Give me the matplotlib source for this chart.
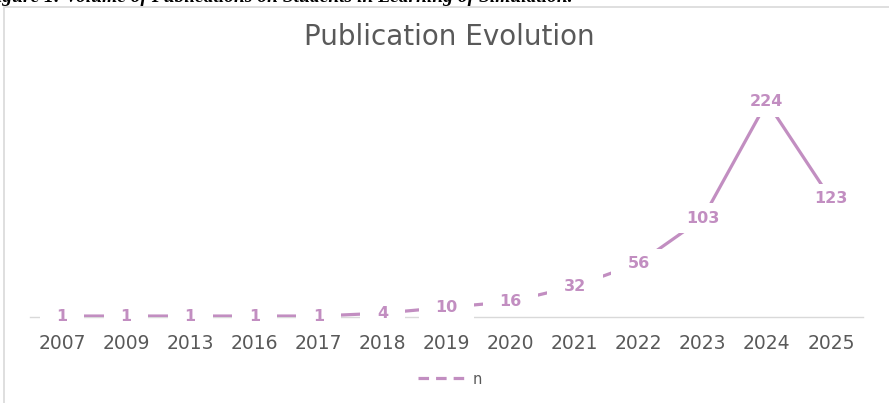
import matplotlib
matplotlib.use("Agg")
import matplotlib.pyplot as plt
from matplotlib.patches import Rectangle
from matplotlib.path import Path

years = ["2007", "2009", "2013", "2016", "2017", "2018", "2019",
         "2020", "2021", "2022", "2023", "2024", "2025"]
counts = [1, 1, 1, 1, 1, 4, 10, 16, 32, 56, 103, 224, 123]
series_name = "n"
title = "Publication Evolution"
caption = "Figure 1: Volume of Publications on Students in Learning of Simulation."

W, H = 889, 403
fig = plt.figure(figsize=(W / 100, H / 100), dpi=100)
fig.patch.set_facecolor("white")

line_color = "#C28EC1"
text_gray = "#595959"


class WideBox:
    """Rectangular label box with separate horizontal/vertical padding."""
    def __init__(self, padx=0.8, pady=0.5):
        self.padx = padx
        self.pady = pady

    def __call__(self, x0, y0, width, height, mutation_size):
        px = self.padx * mutation_size
        py = self.pady * mutation_size
        xa, ya = x0 - px, y0 - py
        xb, yb = x0 + width + px, y0 + height + py
        return Path([(xa, ya), (xb, ya), (xb, yb), (xa, yb), (xa, ya)],
                    closed=True)


# chart frame
fig.patches.append(Rectangle((4 / W, -0.1), 1.2, 1 - 7 / H + 0.1,
                             transform=fig.transFigure, fill=False,
                             edgecolor="#D9D9D9", linewidth=1.2))
# cut-off caption at the very top
fig.text(-16 / W, 1 - 2.5 / H, caption, ha="left", va="baseline",
         fontsize=14, family="Liberation Serif", fontweight="bold",
         fontstyle="italic", color="black")

ax = fig.add_axes([30 / W, (H - 317) / H, 833 / W, 240 / H])
x = list(range(len(years)))
ax.plot(x, counts, color=line_color, linewidth=2.3, label=series_name,
        solid_capstyle="butt", zorder=2)
for xi, v in zip(x, counts):
    ax.text(xi, v, str(v), ha="center", va="center",
            fontsize=11.5, fontweight="bold", color=line_color,
            family="DejaVu Sans", zorder=3,
            bbox=dict(boxstyle=WideBox(1.05, 0.45), facecolor="white",
                      edgecolor="none"))

ax.set_xlim(-0.5, len(years) - 0.5)
ax.set_ylim(0, 250)
ax.set_xticks(x)
ax.set_xticklabels(years, fontsize=13.5, color=text_gray, family="DejaVu Sans")
ax.tick_params(axis="x", length=0, pad=12)
ax.set_yticks([])
for s in ["top", "right", "left"]:
    ax.spines[s].set_visible(False)
ax.spines["bottom"].set_color("#D9D9D9")
ax.spines["bottom"].set_linewidth(1)
ax.spines["bottom"].set_zorder(1)
ax.set_facecolor("none")

fig.text(449 / W, 1 - 37 / H, title, ha="center", va="center",
         fontsize=20, color=text_gray, family="DejaVu Sans")

leg = fig.legend(handles=ax.get_lines(), labels=[series_name],
                 loc="center", bbox_to_anchor=(450 / W, 1 - 379 / H),
                 frameon=False, handlelength=3.6,
                 handletextpad=0.2, prop={"family": "DejaVu Sans", "size": 10.5})
for t in leg.get_texts():
    t.set_color(text_gray)
leg.get_lines()[0].set_linestyle((0, (3.3, 2.2)))

fig.savefig("out.png", dpi=100, facecolor="white")
